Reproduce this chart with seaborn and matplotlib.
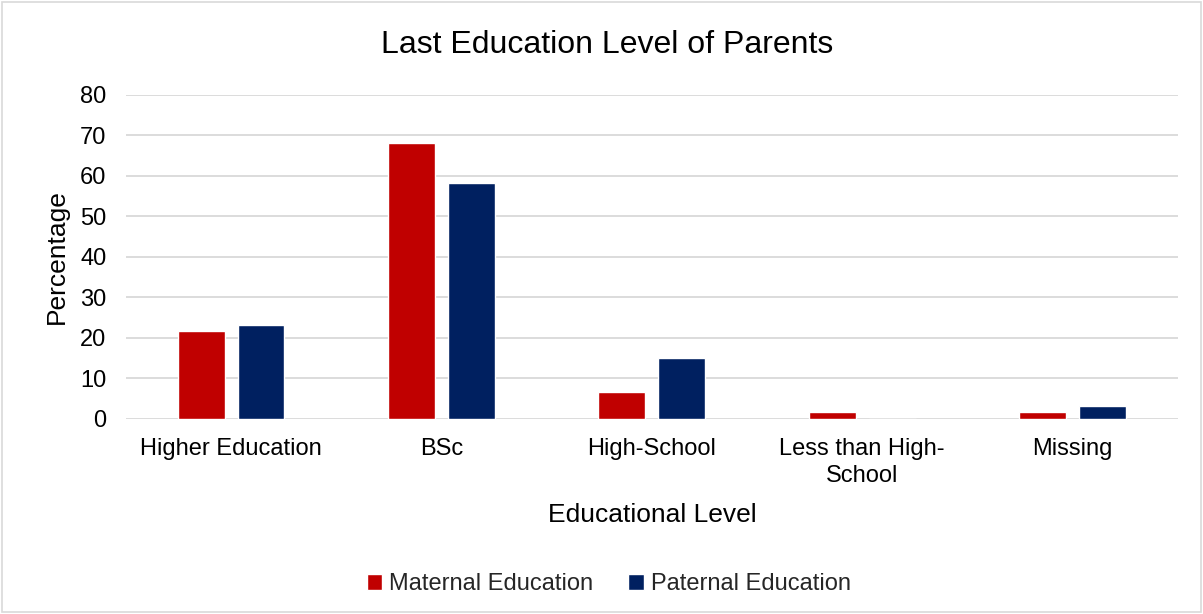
import matplotlib
matplotlib.use("Agg")
import matplotlib.pyplot as plt
import seaborn as sns
import pandas as pd
from matplotlib.patches import Rectangle

# Education levels and shares (%) for each parent
categories = ["Higher Education", "BSc", "High-School", "Less than High-\nSchool", "Missing"]
maternal = [21.7, 68.2, 6.7, 1.7, 1.7]
paternal = [23.3, 58.3, 15.0, 0.0, 3.2]
series = ["Maternal Education", "Paternal Education"]
colors = ["#C00000", "#002060"]
y_ticks = [0, 10, 20, 30, 40, 50, 60, 70, 80]

df = pd.DataFrame({
    "level": categories * 2,
    "value": maternal + paternal,
    "parent": [series[0]] * len(categories) + [series[1]] * len(categories),
})

sns.set_theme(style="white")
plt.rcParams["font.family"] = ["Liberation Sans", "DejaVu Sans"]

fig = plt.figure(figsize=(12.03, 6.14), dpi=100)
ax = fig.add_axes([0.1047, 0.3176, 0.8743, 0.5277])

sns.barplot(data=df, x="level", y="value", hue="parent", palette=colors,
            order=categories, hue_order=series, width=0.57, gap=0.22,
            saturation=1, ax=ax, zorder=3)

ax.set_ylim(0, 80)
ax.set_yticks(y_ticks)
ax.set_xlim(-0.5, len(categories) - 0.5)
ax.yaxis.grid(True, color="#D9D9D9", linewidth=1.3, zorder=0)
ax.set_axisbelow(True)
for s in ax.spines.values():
    s.set_visible(False)
ax.tick_params(axis="both", length=0, labelsize=17, colors="#000000")
ax.tick_params(axis="y", pad=14)
ax.tick_params(axis="x", pad=14)
for t in ax.get_xticklabels():
    t.set_linespacing(1.25)

ax.set_xlabel("Educational Level", fontsize=19, labelpad=12, color="#000000")
ax.set_ylabel("Percentage", fontsize=19, labelpad=8, color="#000000")
fig.suptitle("Last Education Level of Parents", fontsize=23, x=0.505, y=0.926,
             va="center", color="#000000")

handles, labels = ax.get_legend_handles_labels()
ax.legend(handles, labels, loc="center", bbox_to_anchor=(0.506, 0.049),
          bbox_transform=fig.transFigure, ncol=2, frameon=False,
          fontsize=17, handlelength=0.65, handleheight=0.65,
          handletextpad=0.3, columnspacing=1.5)

fig.patches.append(Rectangle((0.002, 0.003), 0.996, 0.994, transform=fig.transFigure,
                             fill=False, edgecolor="#D9D9D9", linewidth=1.2))

fig.savefig("out.png", dpi=100, facecolor="white")
